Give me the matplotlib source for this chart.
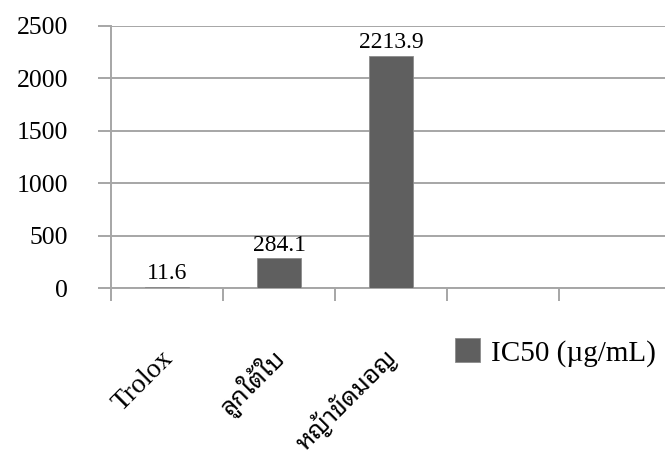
import matplotlib
matplotlib.use('Agg')
from matplotlib import pyplot as plt
from matplotlib.ticker import FixedLocator

plt.rcParams['font.family'] = ['Liberation Serif', 'Noto Sans Thai Looped', 'DejaVu Sans']

categories = ['Trolox', 'ลูกใต้ใบ', 'หญ้าขัดมอญ', '', '']
values = [11.6, 284.1, 2213.9]
value_labels = ['11.6', '284.1', '2213.9']
series_name = 'IC50 (µg/mL)'
y_ticks = [0, 500, 1000, 1500, 2000, 2500]

grid_col = '#a6a6a6'
bar_col = '#5f5f5f'

fig = plt.figure(figsize=(6.65, 4.59), dpi=100)
W, H = 665, 459
# plot area in pixels: left 111, right 671, top 25.7, bottom 288.3
ax = fig.add_axes([111 / W, 1 - 288.3 / H, 560 / W, (288.3 - 25.7) / H])

x = list(range(len(values)))
ax.bar(x, values, width=0.39, color=bar_col, edgecolor='#8c8c8c',
       linewidth=0.6, label=series_name, zorder=3)

for xi, v, lab in zip(x, values, value_labels):
    ax.annotate(lab, (xi, v), xytext=(0, 2), textcoords='offset points',
                ha='center', va='bottom', fontsize=17, color='black', zorder=4)

ax.set_xlim(-0.5, len(categories) - 0.5)
ax.set_ylim(0, 2500)
ax.set_yticks(y_ticks)
ax.set_yticklabels([str(t) for t in y_ticks])
ax.yaxis.grid(True, color=grid_col, linewidth=1.4, zorder=0)
ax.set_axisbelow(True)

for s in ['top', 'right']:
    ax.spines[s].set_visible(False)
for s in ['left', 'bottom']:
    ax.spines[s].set_color(grid_col)
    ax.spines[s].set_linewidth(1.4)

ax.tick_params(axis='y', direction='out', length=9.4, width=1.4, color=grid_col,
               pad=21.5, labelsize=18.5)
# category boundaries as minor ticks, labels on (invisible) major ticks
ax.xaxis.set_minor_locator(FixedLocator([i - 0.5 for i in range(len(categories))]))
ax.set_xticks([i + 0.06 for i in range(len(categories))])
ax.set_xticklabels(categories, rotation=45, ha='right', va='baseline',
                   rotation_mode='anchor', fontsize=20)
for t in ax.get_xticklabels():
    if t.get_text() and t.get_text() != 'Trolox':
        t.set_fontsize(18)
ax.tick_params(axis='x', which='major', length=0, pad=51)
ax.tick_params(axis='x', which='minor', direction='out', length=9.4, width=1.4,
               color=grid_col)

ax.legend(loc='center left', bbox_to_anchor=(455 / W, 1 - 352.5 / H),
          bbox_transform=fig.transFigure, frameon=False, fontsize=21,
          handlelength=0.85, handleheight=0.85, handletextpad=0.4,
          borderpad=0, borderaxespad=0)

fig.savefig('out.png', dpi=100)
